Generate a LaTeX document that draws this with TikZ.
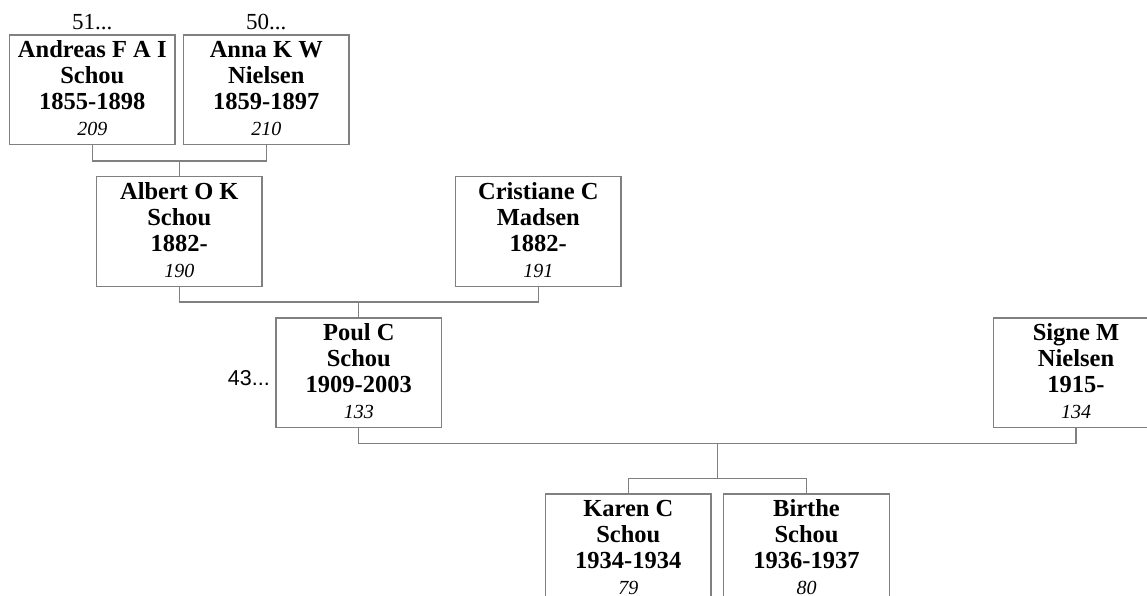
\documentclass[tikz,border=0pt]{standalone}
\usepackage{fontspec}
\setmainfont{Liberation Serif}
\newfontfamily\labelsans{Liberation Sans}
\definecolor{boxgray}{RGB}{128,128,128}
\newcommand\pnum[1]{{\fontsize{20}{26}\selectfont\mdseries\itshape #1\rule[-3.5pt]{0pt}{3.5pt}}}
\newcommand\topstrut{\rule{0pt}{17.5pt}}
\tikzset{
  person/.style={draw=boxgray, line width=1.2pt, minimum width=165.5pt,
    minimum height=109.5pt, inner sep=0pt, align=center,
    font=\fontsize{24.5}{26}\selectfont\bfseries},
  link/.style={draw=boxgray, line width=1.2pt},
  toplabel/.style={inner sep=0pt, anchor=base, font=\fontsize{23}{24}\selectfont},
  sidelabel/.style={inner sep=0pt, anchor=base east, font=\labelsans\fontsize{21.5}{24}\selectfont},
}
\begin{document}
\begin{tikzpicture}[x=1pt,y=-1pt]
  \clip (0,0) rectangle (1147,596);
  % persons
  \node[person] (andreas) at (92.3,89.7) {\topstrut Andreas F A I\\Schou\\1855-1898\\\pnum{209}};
  \node[person] (anna) at (266.3,89.7) {\topstrut Anna K W\\Nielsen\\1859-1897\\\pnum{210}};
  \node[person] (albert) at (179.3,231.5) {\topstrut Albert O K\\Schou\\1882-\\\pnum{190}};
  \node[person] (cristiane) at (538.3,231.5) {\topstrut Cristiane C\\Madsen\\1882-\\\pnum{191}};
  \node[person] (poul) at (358.8,372.8) {\topstrut Poul C\\Schou\\1909-2003\\\pnum{133}};
  \node[person] (signe) at (1076,372.8) {\topstrut Signe M\\Nielsen\\1915-\\\pnum{134}};
  \node[person] (karen) at (628.3,548.8) {\topstrut Karen C\\Schou\\1934-1934\\\pnum{79}};
  \node[person] (birthe) at (806.5,548.8) {\topstrut Birthe\\Schou\\1936-1937\\\pnum{80}};
  % labels
  \node[toplabel] (l51) at (92.3,30) {51...};
  \node[toplabel] (l50) at (266.3,30) {50...};
  \node[sidelabel] (l43) at (270,385) {43...};
  % junctions
  \coordinate (j1) at (179.3,161);
  \coordinate (j2) at (358.8,302);
  \coordinate (j3) at (717.4,443.5);
  \coordinate (j4) at (717.4,478.3);
  % connectors
  \draw[link] (andreas.south) |- (j1) -| (anna.south);
  \draw[link] (j1) -- (albert.north);
  \draw[link] (albert.south) |- (j2) -| (cristiane.south);
  \draw[link] (j2) -- (poul.north);
  \draw[link] (poul.south) |- (j3) -| (signe.south);
  \draw[link] (j3) -- (j4);
  \draw[link] (karen.north) |- (j4) -| (birthe.north);
\end{tikzpicture}
\end{document}
